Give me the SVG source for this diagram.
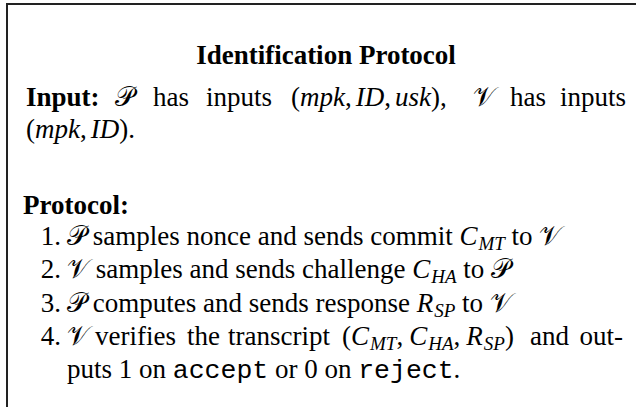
<svg xmlns="http://www.w3.org/2000/svg" width="636" height="407" viewBox="0 0 636 407">
  <style>
    text { font-family: "Liberation Serif", "Times New Roman", serif; font-size: 27px; fill: #000; }
    .b { font-weight: bold; }
    .mi { font-style: italic; }
    .cal { font-family: "DejaVu Serif", "DejaVu Sans", "Noto Sans", serif; font-style: normal; }
    .sub { font-size: 19px; font-style: italic; }
    .tt { font-family: "Liberation Mono", "Courier New", monospace; font-size: 26.5px; }
    .frame { fill: none; stroke: #222; stroke-width: 2; }
  </style>

  <rect x="0" y="0" width="636" height="407" fill="#fff"/>

  <!-- frame, open to the right and bottom -->
  <path class="frame" d="M7 407 V4 H636"/>

  <!-- heading -->
  <text class="b" x="326" y="64" text-anchor="middle">Identification Protocol</text>

  <!-- inputs paragraph (justified first line) -->
  <g id="inputs">
    <text class="b" x="26" y="106">Input:</text>
    <text class="cal" x="115" y="106">𝒫</text>
    <text x="153" y="106">has</text>
    <text x="206" y="106">inputs</text>
    <text x="291" y="106">(<tspan class="mi">mpk</tspan>,<tspan class="mi" dx="4">ID</tspan>,<tspan class="mi" dx="4">usk</tspan>),</text>
    <text class="cal" x="473" y="106">𝒱</text>
    <text x="510" y="106">has</text>
    <text x="626" y="106" text-anchor="end">inputs</text>
    <text x="26" y="138">(<tspan class="mi">mpk</tspan>,<tspan class="mi" dx="4">ID</tspan>).</text>
  </g>

  <!-- protocol steps -->
  <g id="protocol">
    <text class="b" x="23" y="214">Protocol:</text>

    <text x="61" y="245" text-anchor="end">1.</text>
    <text x="67" y="245"><tspan class="cal">𝒫</tspan> samples nonce and sends commit <tspan class="mi">C</tspan><tspan class="sub" dx="1" dy="5">MT</tspan><tspan dy="-5"> to </tspan><tspan class="cal">𝒱</tspan></text>

    <text x="61" y="278" text-anchor="end">2.</text>
    <text x="67" y="278"><tspan class="cal">𝒱</tspan> samples and sends challenge <tspan class="mi">C</tspan><tspan class="sub" dx="1" dy="5">HA</tspan><tspan dy="-5"> to </tspan><tspan class="cal">𝒫</tspan></text>

    <text x="61" y="312" text-anchor="end">3.</text>
    <text x="67" y="312"><tspan class="cal">𝒫</tspan> computes and sends response <tspan class="mi">R</tspan><tspan class="sub" dx="1" dy="5">SP</tspan><tspan dy="-5"> to </tspan><tspan class="cal">𝒱</tspan></text>

    <text x="61" y="345" text-anchor="end">4.</text>
    <text class="cal" x="67" y="345">𝒱</text>
    <text x="95" y="345">verifies</text>
    <text x="187" y="345">the</text>
    <text x="228" y="345">transcript</text>
    <text x="342" y="345">(<tspan class="mi">C</tspan><tspan class="sub" dx="1" dy="5">MT</tspan><tspan dy="-5">,</tspan><tspan class="mi" dx="6">C</tspan><tspan class="sub" dx="1" dy="5">HA</tspan><tspan dy="-5">,</tspan><tspan class="mi" dx="6">R</tspan><tspan class="sub" dx="1" dy="5">SP</tspan><tspan dy="-5">)</tspan></text>
    <text x="530" y="345">and</text>
    <text x="623" y="345" text-anchor="end">out-</text>
    <text x="67" y="378">puts 1 on <tspan class="tt">accept</tspan> or 0 on <tspan class="tt">reject</tspan>.</text>
  </g>
</svg>
